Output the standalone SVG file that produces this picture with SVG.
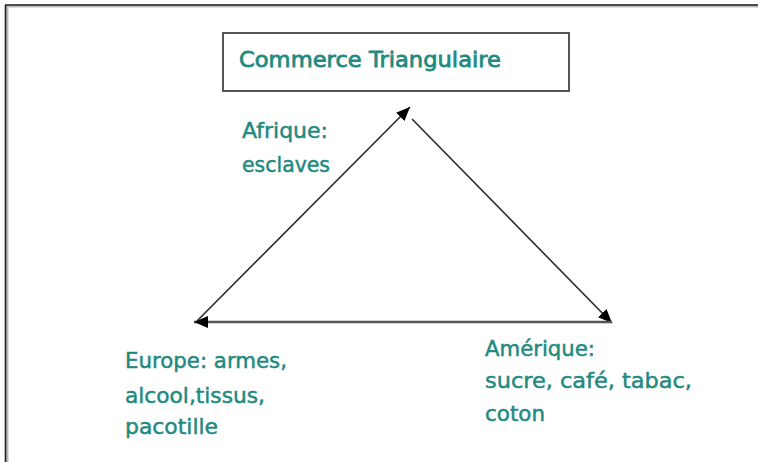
<svg xmlns="http://www.w3.org/2000/svg" width="758" height="462" viewBox="0 0 758 462">
  <style>
    .lbl { font-family: "DejaVu Sans", "Liberation Sans", sans-serif; font-size: 22px; fill: #1f8a80; stroke: #1f8a80; stroke-width: 0.5; }
    .title { font-size: 22px; stroke-width: 0.8; }
    .edge { stroke: #2a2a2a; stroke-width: 1.6; fill: none; marker-end: url(#arrow); }
    .base { stroke: #555; stroke-width: 2.6; }
  </style>
  <defs>
    <marker id="arrow" viewBox="0 0 14 12" refX="14" refY="6" markerWidth="14" markerHeight="12" markerUnits="userSpaceOnUse" orient="auto">
      <path d="M0,0 L14,6 L0,12 z" fill="#000"/>
    </marker>
  </defs>
  <rect width="758" height="462" fill="#ffffff"/>
  <g id="frame">
    <line x1="6" y1="6" x2="758" y2="6" stroke="#bbbbbb" stroke-width="3"/>
    <line x1="7" y1="6" x2="7" y2="462" stroke="#bbbbbb" stroke-width="3"/>
    <line x1="5" y1="5" x2="758" y2="5" stroke="#222" stroke-width="1.6"/>
    <line x1="5.5" y1="5" x2="5.5" y2="462" stroke="#222" stroke-width="1.6"/>
  </g>
  <g id="connectors">
    <line class="edge" x1="197" y1="321" x2="410" y2="107"/>
    <line class="edge" x1="412" y1="119" x2="612" y2="323"/>
    <line class="edge base" x1="612" y1="322" x2="194" y2="322"/>
  </g>
  <g id="title">
    <rect x="223" y="33" width="346" height="58" fill="#fff" stroke="#555" stroke-width="2"/>
    <text class="lbl title" x="239" y="67" textLength="262" lengthAdjust="spacingAndGlyphs">Commerce Triangulaire</text>
  </g>
  <g id="afrique">
    <text class="lbl" x="242" y="138" textLength="86" lengthAdjust="spacingAndGlyphs">Afrique:</text>
    <text class="lbl" x="242" y="172" textLength="88" lengthAdjust="spacingAndGlyphs">esclaves</text>
  </g>
  <g id="europe">
    <text class="lbl" x="125" y="368" textLength="162" lengthAdjust="spacingAndGlyphs">Europe: armes,</text>
    <text class="lbl" x="125" y="403" textLength="140" lengthAdjust="spacingAndGlyphs">alcool,tissus,</text>
    <text class="lbl" x="125" y="434" textLength="93" lengthAdjust="spacingAndGlyphs">pacotille</text>
  </g>
  <g id="amerique">
    <text class="lbl" x="485" y="356" textLength="110" lengthAdjust="spacingAndGlyphs">Amérique:</text>
    <text class="lbl" x="485" y="388" textLength="207" lengthAdjust="spacingAndGlyphs">sucre, café, tabac,</text>
    <text class="lbl" x="485" y="421" textLength="60" lengthAdjust="spacingAndGlyphs">coton</text>
  </g>
</svg>
